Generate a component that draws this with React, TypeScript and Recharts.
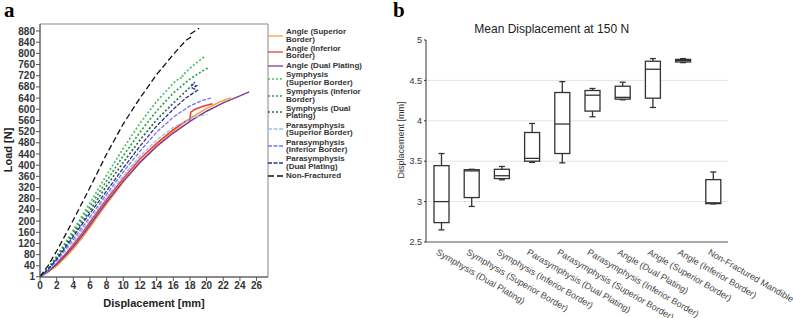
import React from 'react';
import { LineChart, Line, XAxis, YAxis, ReferenceArea, ComposedChart, Bar, CartesianGrid } from 'recharts';

// ---- panel a: load vs displacement, [displacement mm, load N]
const angleSuperior: [number, number][] = [[0, 1], [1, 18], [2, 40], [3, 68], [4, 100], [5, 138], [6, 178], [7, 220], [8, 262], [10, 340], [12, 410], [14, 470], [16, 522], [18, 567], [20, 603], [21.5, 625], [22.9, 641]];
const angleInferior: [number, number][] = [[0, 1], [1, 22], [2, 48], [3, 80], [4, 116], [5, 155], [6, 196], [7, 238], [8, 278], [10, 352], [12, 422], [14, 478], [16, 527], [17.5, 558], [18, 563], [18.1, 590], [18.6, 600], [19.5, 610], [20.7, 620]];
const angleDual: [number, number][] = [[0, 1], [1, 20], [2, 45], [3, 75], [4, 108], [5, 146], [6, 186], [7, 228], [8, 268], [10, 343], [12, 410], [14, 467], [16, 515], [18, 557], [20, 593], [22, 623], [24, 648], [25.1, 662]];
const symSuperior: [number, number][] = [[0, 1], [1, 33], [2, 75], [4, 168], [6, 265], [8, 365], [10, 460], [12, 550], [14, 628], [16, 693], [16.8, 712], [17.2, 714], [17.1, 722], [17.5, 732], [18.5, 760], [19.7, 787]];
const symInferior: [number, number][] = [[0, 1], [1, 30], [2, 70], [4, 160], [6, 252], [8, 344], [10, 434], [12, 518], [14, 594], [16, 658], [18, 708], [19.5, 737], [20.3, 750]];
const symDual: [number, number][] = [[0, 1], [1, 28], [2, 66], [4, 150], [6, 238], [8, 326], [10, 410], [12, 490], [14, 562], [16, 622], [17.5, 664], [18.6, 697]];
const paraSuperior: [number, number][] = [[0, 1], [1, 24], [2, 55], [4, 126], [6, 205], [8, 285], [10, 362], [12, 432], [14, 490], [16, 535], [18, 565], [19, 575], [20.1, 582]];
const paraInferior: [number, number][] = [[0, 1], [1, 26], [2, 60], [4, 135], [6, 215], [8, 296], [10, 376], [12, 450], [14, 518], [16, 572], [18, 612], [19.5, 632], [20.5, 640]];
const paraDual: [number, number][] = [[0, 1], [1, 28], [2, 64], [4, 145], [6, 228], [8, 308], [10, 390], [12, 468], [14, 540], [16, 600], [17.5, 640], [18.9, 668], [18.3, 676], [18.8, 684], [18.2, 690]];
const nonFractured: [number, number][] = [[0, 1], [1, 42], [2, 93], [3, 148], [4, 204], [6, 320], [8, 440], [10, 548], [12, 640], [14, 724], [16, 796], [17.5, 846], [18.2, 860], [18.1, 870], [18.6, 880], [19.1, 890]];

const dispTicks = [0, 2, 4, 6, 8, 10, 12, 14, 16, 18, 20, 22, 24, 26];
const loadTicks = [1, 40, 80, 120, 160, 200, 240, 280, 320, 360, 400, 440, 480, 520, 560, 600, 640, 680, 720, 760, 800, 840, 880];

const seriesA = [
  { name: 'Angle (Superior\nBorder)', data: angleSuperior, color: '#F4A340', dash: undefined, w: 1.5 },
  { name: 'Angle (Inferior\nBorder)', data: angleInferior, color: '#EE3B3B', dash: undefined, w: 1.5 },
  { name: 'Angle (Dual Plating)', data: angleDual, color: '#7D3C98', dash: undefined, w: 1.5 },
  { name: 'Symphysis\n(Superior Border)', data: symSuperior, color: '#4DBD6A', dash: '2 2', w: 1.7 },
  { name: 'Symphysis (Inferior\nBorder)', data: symInferior, color: '#2E9E4F', dash: '2 2', w: 1.7 },
  { name: 'Symphysis (Dual\nPlating)', data: symDual, color: '#2F6B45', dash: '2 2', w: 1.7 },
  { name: 'Parasymphysis\n(Superior Border)', data: paraSuperior, color: '#92C1F2', dash: '4 1.5', w: 1.3 },
  { name: 'Parasymphysis\n(Inferior Border)', data: paraInferior, color: '#7474F2', dash: '4 1.5', w: 1.3 },
  { name: 'Parasymphysis\n(Dual Plating)', data: paraDual, color: '#2B2F8F', dash: '4 1.5', w: 1.3 },
  { name: 'Non-Fractured', data: nonFractured, color: '#111111', dash: '6 3', w: 1.3 },
];

// ---- panel b: box plot, mean displacement at 150 N
const categories = ['Symphysis (Dual Plating)', 'Symphysis (Superior Border)', 'Symphysis (Inferior Border)', 'Parasymphysis (Dual Plating)', 'Parasymphysis (Superior Border)', 'Parasymphysis (Inferior Border)', 'Angle (Dual Plating)', 'Angle (Superior Border)', 'Angle (Inferior Border)', 'Non-Fractured Mandible'];
const mins = [2.65, 2.94, 3.27, 3.485, 3.48, 4.05, 4.26, 4.165, 4.72, 2.972];
const q1s = [2.74, 3.05, 3.285, 3.5, 3.595, 4.12, 4.268, 4.28, 4.728, 2.975];
const medians = [3.0, 3.38, 3.32, 3.535, 3.96, 4.317, 4.29, 4.638, 4.745, 2.985];
const q3s = [3.445, 3.395, 3.4, 3.855, 4.35, 4.375, 4.428, 4.737, 4.76, 3.272];
const maxs = [3.595, 3.4, 3.435, 3.967, 4.485, 4.4, 4.478, 4.77, 4.77, 3.367];
const dispTicksB = [2.5, 3, 3.5, 4, 4.5, 5];

const boxData = categories.map((name, i) => ({
  name, min: mins[i], q1: q1s[i], median: medians[i], q3: q3s[i], max: maxs[i],
}));

const sans = '"Liberation Sans", Arial, Helvetica, sans-serif';

const BoxShape = (props: any) => {
  const { x, y, width, height, payload } = props;
  const lo = payload.min, hi = payload.max;
  const py = (v: number) => (hi === lo ? y : y + ((hi - v) / (hi - lo)) * height);
  const cx = x + width / 2;
  const cap = 3;
  const s = '#333';
  return (
    <g stroke={s} strokeWidth={1.3} fill="none">
      <line x1={cx} x2={cx} y1={py(hi)} y2={py(payload.q3)} />
      <line x1={cx} x2={cx} y1={py(payload.q1)} y2={py(lo)} />
      <line x1={cx - cap} x2={cx + cap} y1={py(hi)} y2={py(hi)} />
      <line x1={cx - cap} x2={cx + cap} y1={py(lo)} y2={py(lo)} />
      <rect x={x} y={py(payload.q3)} width={width} height={Math.max(py(payload.q1) - py(payload.q3), 0.5)} fill="#fff" />
      <line x1={x} x2={x + width} y1={py(payload.median)} y2={py(payload.median)} />
    </g>
  );
};

// slanted category labels; opacity keeps the text antialiasing grey
const SlantTick = (props: any) => {
  const { x, y, payload } = props;
  return (
    <g opacity={0.99}>
      <text x={x - 2} y={y} dy={7} transform={`rotate(30 ${x - 2} ${y})`} textAnchor="start"
        fontSize={9} fontFamily={sans} style={{ fill: '#444' }}>
        {payload.value}
      </text>
    </g>
  );
};

function Legend() {
  return (
    <div style={{ position: 'absolute', left: 268, top: 28.4, width: 120, fontFamily: sans, fontSize: 8, fontWeight: 700, color: '#333' }}>
      {seriesA.map((s) => (
        <div key={s.name} style={{ display: 'flex', alignItems: 'center', marginBottom: 2.2 }}>
          <svg width={18} height={4} style={{ flex: 'none' }}>
            <line x1={0} x2={15} y1={2} y2={2} stroke={s.color} strokeWidth={1.3} strokeDasharray={s.dash} />
          </svg>
          <div style={{ whiteSpace: 'pre', lineHeight: '7.3px' }}>{s.name}</div>
        </div>
      ))}
    </div>
  );
}

export default function App() {
  const tickA = { fontSize: 10, fontWeight: 700, fill: '#333', fontFamily: sans };
  return (
    <div style={{ position: 'absolute', left: 0, top: 0, width: 793, height: 318, background: '#fff', overflow: 'hidden' }}>
      {/* panel a */}
      <div style={{ position: 'absolute', left: 0, top: 0 }}>
        <LineChart width={270} height={318} margin={{ top: 24, right: 2, bottom: 0, left: 0 }}>
          <ReferenceArea x1={0} x2={27.37} y1={0} y2={905} fill="none" stroke="#888" strokeWidth={1} ifOverflow="visible" />
          <XAxis type="number" dataKey="x" domain={[0, 27.37]} ticks={dispTicks} interval={0} height={41}
            tick={tickA} tickSize={4} tickMargin={1} stroke="#555" allowDataOverflow />
          <YAxis type="number" dataKey="y" domain={[0, 905]} ticks={loadTicks} interval={0} width={40}
            tick={tickA} tickSize={4} tickMargin={1} stroke="#555" allowDataOverflow />
          {seriesA.map((s) => (
            <Line key={s.name} data={s.data.map(([x, y]) => ({ x, y }))} dataKey="y" type="linear"
              stroke={s.color} strokeWidth={s.w} strokeDasharray={s.dash} dot={false}
              isAnimationActive={false} />
          ))}
        </LineChart>
      </div>
      <Legend />
      <div style={{ position: 'absolute', left: 4, top: 0, fontFamily: '"Liberation Serif", "Times New Roman", serif', fontWeight: 700, fontSize: 21, lineHeight: '21px' }}>a</div>
      <div style={{ position: 'absolute', left: 154, top: 303, transform: 'translate(-50%, -50%)', fontFamily: sans, fontWeight: 700, fontSize: 11, color: '#222', whiteSpace: 'nowrap' }}>Displacement [mm]</div>
      <div style={{ position: 'absolute', left: 8, top: 150, transform: 'translate(-50%, -50%) rotate(-90deg)', fontFamily: sans, fontWeight: 700, fontSize: 11, color: '#222', whiteSpace: 'nowrap' }}>Load [N]</div>

      {/* panel b */}
      <div style={{ position: 'absolute', left: 390, top: 0 }}>
        <ComposedChart width={403} height={318} data={boxData} margin={{ top: 40, right: 65, bottom: 0, left: 0 }}>
          <CartesianGrid vertical={false} horizontalValues={[3, 3.5, 4, 4.5]} stroke="#e4e4e4" />
          <XAxis dataKey="name" type="category" height={76} interval={0} tick={<SlantTick />} tickLine={false}
            tickSize={0} tickMargin={6} stroke="#555" />
          <YAxis type="number" domain={[2.5, 5]} ticks={dispTicksB} interval={0} width={36}
            tick={{ fontSize: 9, fill: '#333', fontFamily: sans }} tickSize={2} tickMargin={2} stroke="#333" allowDataOverflow />
          <Bar dataKey={(d: any) => [d.min, d.max]} barSize={15} shape={<BoxShape />} isAnimationActive={false} />
        </ComposedChart>
      </div>
      <div style={{ position: 'absolute', left: 393, top: 0, fontFamily: '"Liberation Serif", "Times New Roman", serif', fontWeight: 700, fontSize: 21, lineHeight: '21px' }}>b</div>
      <div style={{ position: 'absolute', left: 401.7, top: 23, width: 300, textAlign: 'center', fontFamily: sans, fontSize: 12, lineHeight: '12px', color: '#222' }}>Mean Displacement at 150 N</div>
      <div style={{ position: 'absolute', left: 400.5, top: 140, transform: 'translate(-50%, -50%) rotate(-90deg)', fontFamily: sans, fontSize: 9, color: '#333', whiteSpace: 'nowrap' }}>Displacement [mm]</div>
    </div>
  );
}
